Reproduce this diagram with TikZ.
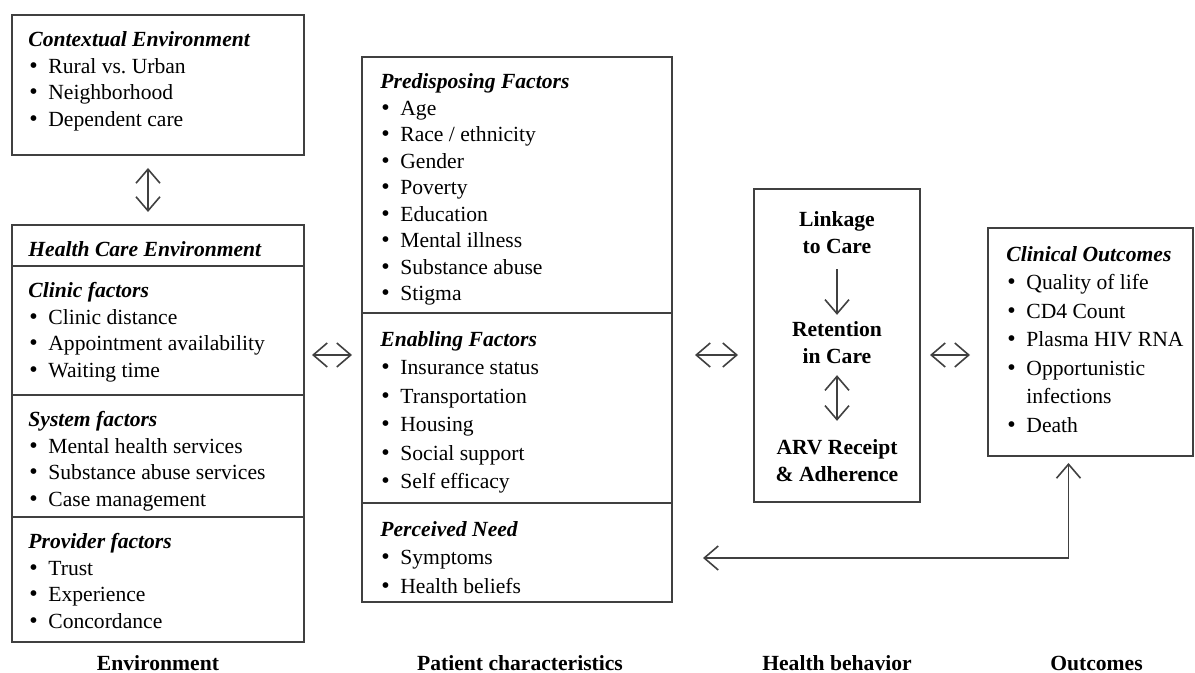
\documentclass[tikz,border=0pt]{standalone}
\usepackage{fontspec}
\setmainfont{Liberation Serif}
\usepackage{tikz}
\usetikzlibrary{arrows.meta, positioning}

\newcommand{\hd}[1]{\textbf{\textit{#1}}}
\newcommand{\itm}{\\\makebox[10pt][l]{\hspace{0.5pt}{\large\textbullet}}}

\begin{document}
\begin{tikzpicture}[
  x=0.5pt, y=-0.5pt,
  font=\fontsize{10.8}{13.25}\selectfont,
  >={Straight Barb[length=7pt, width=12pt]},
  sec/.style={draw=black!75, line width=1pt, anchor=north west,
              inner sep=0pt, outer sep=0pt, minimum width=146pt},
  wide/.style={sec, minimum width=155pt},
  txt/.style={anchor=north west, align=left, inner sep=0pt},
  loose/.style={txt, font=\fontsize{10.8}{14.25}\selectfont},
  beh/.style={align=center, font=\fontsize{10.8}{13.5}\selectfont\bfseries},
  lab/.style={font=\fontsize{10.8}{13.5}\selectfont\bfseries},
  arr/.style={->, draw=black!75, line width=0.8pt},
  dbl/.style={<->, draw=black!75, line width=0.8pt}
]
\useasboundingbox (0,0) rectangle (1195,673);

% environment
\node[sec, minimum height=70pt] (ctx) at (12,15) {};
\node[txt] (ctx-t) at ([shift={(8pt,-6.5pt)}]ctx.north west)
  {\strut\hd{Contextual Environment}\itm Rural vs.\ Urban\itm Neighborhood\itm Dependent care};

\node[sec, minimum height=20.5pt] (hdr) at (12,225) {};
\node[txt] (hdr-t) at ([shift={(8pt,-6.5pt)}]hdr.north west) {\strut\hd{Health Care Environment}};
\node[sec, minimum height=64.5pt, below=0pt of hdr] (clinic) {};
\node[txt] (clinic-t) at ([shift={(8pt,-6.5pt)}]clinic.north west)
  {\strut\hd{Clinic factors}\itm Clinic distance\itm Appointment availability\itm Waiting time};
\node[sec, minimum height=61pt, below=0pt of clinic] (system) {};
\node[txt] (system-t) at ([shift={(8pt,-6.5pt)}]system.north west)
  {\strut\hd{System factors}\itm Mental health services\itm Substance abuse services\itm Case management};
\node[sec, minimum height=62.5pt, below=0pt of system] (prov) {};
\node[txt] (prov-t) at ([shift={(8pt,-6.5pt)}]prov.north west)
  {\strut\hd{Provider factors}\itm Trust\itm Experience\itm Concordance};

% patient characteristics
\node[wide, minimum height=128pt] (pre) at (362,57) {};
\node[txt] (pre-t) at ([shift={(9pt,-6.5pt)}]pre.north west)
  {\strut\hd{Predisposing Factors}\itm Age\itm Race / ethnicity\itm Gender\itm Poverty\itm Education\itm Mental illness\itm Substance abuse\itm Stigma};
\node[wide, minimum height=95pt, below=0pt of pre] (ena) {};
\node[loose] (ena-t) at ([shift={(9pt,-6.5pt)}]ena.north west)
  {\strut\hd{Enabling Factors}\itm Insurance status\itm Transportation\itm Housing\itm Social support\itm Self efficacy};
\node[wide, minimum height=49.5pt, below=0pt of ena] (per) {};
\node[loose] (per-t) at ([shift={(9pt,-6.5pt)}]per.north west)
  {\strut\hd{Perceived Need}\itm Symptoms\itm Health beliefs};

% health behavior
\node[sec, minimum width=83pt, minimum height=156.5pt] (behbox) at (754,189) {};
\node[beh] (link) at (837,233) {Linkage\\to Care};
\node[beh] (ret) at (837,343) {Retention\\in Care};
\node[beh] (arv) at (837,461) {ARV Receipt\\\& Adherence};

% outcomes
\node[sec, minimum width=102.5pt, minimum height=114pt] (out) at (988,228) {};
\node[loose] (out-t) at ([shift={(9pt,-6.5pt)}]out.north west)
  {\strut\hd{Clinical Outcomes}\itm Quality of life\itm CD4 Count\itm Plasma HIV RNA\itm Opportunistic\\\hspace*{10pt}infections\itm Death};

\coordinate (mid) at (0,355);
\coordinate (fb) at (0,558);
\coordinate (base) at (0,663);

\draw[dbl, shorten <=6.5pt, shorten >=6.5pt] ([xshift=-5pt]ctx.south) -- ([xshift=-5pt]hdr.north);
\draw[dbl, shorten <=4pt, shorten >=5pt] (clinic.east |- mid) -- (pre.west |- mid);
\draw[dbl, shorten <=11.5pt, shorten >=8pt] (pre.east |- mid) -- (behbox.west |- mid);
\draw[dbl, shorten <=5pt, shorten >=9pt] (behbox.east |- mid) -- (out.west |- mid);
\draw[arr, shorten <=4pt] (link) -- (ret);
\draw[dbl, shorten <=2pt, shorten >=6pt] (ret) -- (arv);
\draw[dbl, shorten <=3.5pt, shorten >=15.5pt] ([xshift=-11pt]out.south) |- (per.east |- fb);

\node[lab] (envlab) at (prov.south |- base) {Environment};
\node[lab] (patlab) at ([xshift=1.5pt]per.south |- base) {Patient characteristics};
\node[lab] (behlab) at (behbox.south |- base) {Health behavior};
\node[lab] (outlab) at ([xshift=3pt]out.south |- base) {Outcomes};
\end{tikzpicture}
\end{document}
